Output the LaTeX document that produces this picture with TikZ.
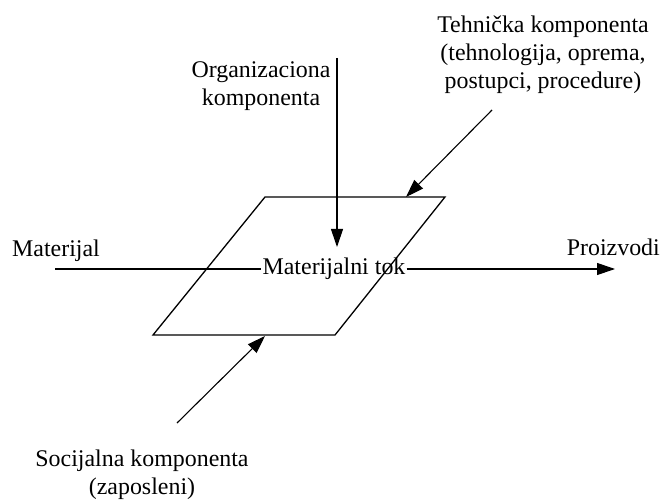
\documentclass[tikz,border=0pt]{standalone}
\usepackage{fontspec}
\setmainfont{Liberation Serif}
\usetikzlibrary{arrows.meta}
\begin{document}
\begin{tikzpicture}[x=1bp,y=-1bp,
  flow/.style={line width=1.1bp},
  arr/.style={flow,-{Triangle[length=18bp,width=12bp]}},
  lbl/.style={inner sep=0pt,align=center,font=\fontsize{24}{28}\selectfont},
  box/.style={line width=1.3bp}]
\useasboundingbox (0,0) rectangle (664,500);
% process plane
\coordinate (p1) at (265,197);
\coordinate (p2) at (445,197);
\coordinate (p3) at (335,335);
\coordinate (p4) at (153,335);
\draw[box] (p1) -- (p2) -- (p3) -- (p4) -- cycle;
% material flow
\node[lbl,inner xsep=1bp] (tok) at (334,269) {Materijalni tok};
\node[lbl,anchor=base west] (mat) at (12,257) {Materijal};
\node[lbl,anchor=base east] (pro) at (660,256) {Proizvodi};
\coordinate (matin) at (55,269);
\coordinate (proout) at (615,269);
\draw[flow] (matin) -- (matin -| tok.west);
\draw[arr] (proout -| tok.east) -- (proout);
% organisational component
\node[lbl] (org) at (261,86) {Organizaciona\\komponenta};
\coordinate (orgin) at (337,58);
\coordinate (orgend) at (337,247);
\draw[arr] (orgin) -- (orgend);
% technical component
\node[lbl] (teh) at (543,55) {Tehnička komponenta\\(tehnologija, oprema,\\postupci, procedure)};
\coordinate (tehin) at (492,110);
\coordinate (tehend) at (406,197);
\draw[arr] (tehin) -- (tehend);
% social component
\node[lbl] (soc) at (142,475) {Socijalna komponenta\\(zaposleni)};
\coordinate (socin) at (177,423);
\coordinate (socend) at (265,336);
\draw[arr] (socin) -- (socend);
\end{tikzpicture}
\end{document}
